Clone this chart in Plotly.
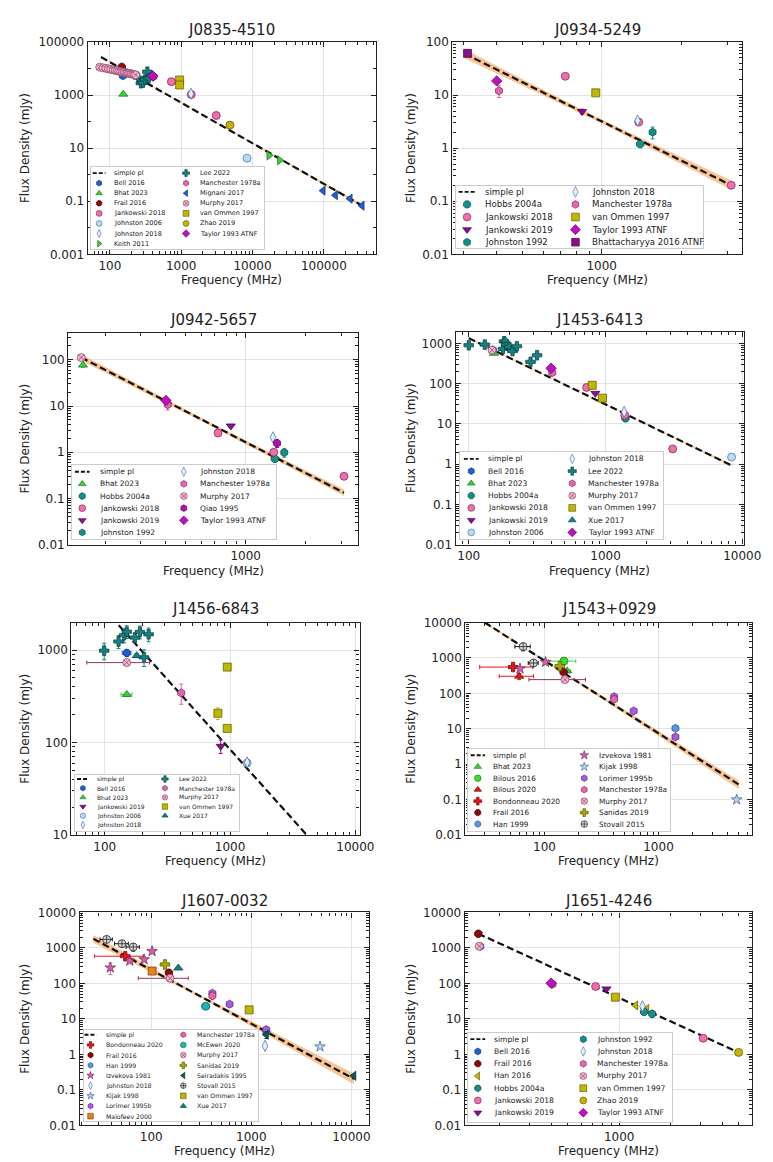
import math
import plotly.graph_objects as go

W, H = 773, 1162
FONT = "DejaVu Sans"
INK = "#222222"

# ---------------- values ----------------
# rows: (reference, frequency MHz, flux density mJy, flux error, frequency error)

J0835_rows = [
    ("Murphy 2017", 72, 11300, 0, 0), ("Murphy 2017", 80, 10600, 0, 0),
    ("Murphy 2017", 88, 10200, 0, 0), ("Murphy 2017", 95, 9600, 0, 0),
    ("Murphy 2017", 103, 9300, 0, 0), ("Murphy 2017", 111, 8900, 0, 0),
    ("Murphy 2017", 118, 8500, 0, 0), ("Murphy 2017", 126, 8300, 0, 0),
    ("Murphy 2017", 134, 7900, 0, 0), ("Murphy 2017", 142, 7700, 0, 0),
    ("Murphy 2017", 150, 7400, 0, 0), ("Murphy 2017", 158, 7300, 0, 0),
    ("Murphy 2017", 166, 7000, 0, 0), ("Murphy 2017", 174, 6800, 0, 0),
    ("Murphy 2017", 182, 6700, 0, 0), ("Murphy 2017", 190, 6500, 0, 0),
    ("Murphy 2017", 200, 6300, 0, 0), ("Murphy 2017", 210, 6100, 0, 0),
    ("Murphy 2017", 220, 5900, 0, 0), ("Murphy 2017", 230, 5800, 0, 0),
    ("Frail 2016", 147, 11500, 1200, 0),
    ("Bell 2016", 152, 5300, 600, 0),
    ("Bhat 2023", 154, 1080, 100, 0),
    ("Lee 2022", 250, 4500, 400, 0), ("Lee 2022", 272, 2800, 300, 0),
    ("Lee 2022", 292, 2950, 300, 0), ("Lee 2022", 312, 3900, 400, 0),
    ("Lee 2022", 335, 7600, 800, 0), ("Lee 2022", 350, 4300, 400, 0),
    ("Manchester 1978a", 408, 4900, 0, 0),
    ("Taylor 1993 ATNF", 400, 5200, 0, 0),
    ("Jankowski 2018", 728, 3200, 300, 0), ("Jankowski 2018", 1382, 1050, 100, 0),
    ("Jankowski 2018", 3100, 170, 20, 0),
    ("Johnston 2018", 1369, 1130, 50, 0),
    ("van Ommen 1997", 950, 3700, 0, 0), ("van Ommen 1997", 950, 2400, 0, 0),
    ("Zhao 2019", 4820, 74, 5, 0),
    ("Johnston 2006", 8356, 4.2, 0.3, 0),
    ("Keith 2011", 17000, 5.3, 0.5, 0), ("Keith 2011", 24000, 3.5, 0.3, 0),
    ("Mignani 2017", 97500, 0.25, 0.02, 0), ("Mignani 2017", 145000, 0.17, 0.02, 0),
    ("Mignani 2017", 233000, 0.125, 0.01, 0), ("Mignani 2017", 343000, 0.068, 0.006, 0),
]
J0835_order = ["Bell 2016", "Bhat 2023", "Frail 2016", "Jankowski 2018", "Johnston 2006",
               "Johnston 2018", "Keith 2011", "Lee 2022", "Manchester 1978a", "Mignani 2017",
               "Murphy 2017", "van Ommen 1997", "Zhao 2019", "Taylor 1993 ATNF"]
J0835_fit_freq = [75, 343000]
J0835_fit_flux = [27000, 0.069]
J0835_band_freq = [75, 2000, 343000]
J0835_band_lo = [25500, 174, 0.062]
J0835_band_hi = [28500, 184, 0.077]
J0835_xticks = ["100", "1000", "10000", "100000"]
J0835_yticks = ["0.001", "0.1", "10", "1000", "100000"]

J0934_rows = [
    ("Bhattacharyya 2016 ATNF", 310, 61, 5, 0),
    ("Taylor 1993 ATNF", 400, 18.5, 0, 0),
    ("Manchester 1978a", 408, 12, 3, 0),
    ("Jankowski 2018", 728, 22.6, 3, 0), ("Jankowski 2018", 1382, 3.1, 0.3, 0),
    ("Jankowski 2018", 3100, 0.2, 0.02, 0),
    ("Jankowski 2019", 843, 4.9, 0.5, 0),
    ("van Ommen 1997", 950, 11, 0, 0),
    ("Johnston 2018", 1369, 3.3, 0.3, 0),
    ("Hobbs 2004a", 1400, 1.19, 0.1, 0),
    ("Johnston 1992", 1560, 2.0, 0.5, 0),
]
J0934_order = ["Hobbs 2004a", "Jankowski 2018", "Jankowski 2019", "Johnston 1992",
               "Johnston 2018", "Manchester 1978a", "van Ommen 1997", "Taylor 1993 ATNF",
               "Bhattacharyya 2016 ATNF"]
J0934_fit_freq = [303, 3100]
J0934_fit_flux = [59.7, 0.2]
J0934_band_freq = [303, 1000, 3100]
J0934_band_lo = [49, 2.95, 0.165]
J0934_band_hi = [72, 3.45, 0.245]
J0934_xticks = ["1000"]
J0934_yticks = ["0.01", "0.1", "1", "10", "100"]

J0942_rows = [
    ("Murphy 2017", 151, 112, 0, 0),
    ("Bhat 2023", 154, 77, 8, 0),
    ("Taylor 1993 ATNF", 400, 13.2, 0, 0),
    ("Manchester 1978a", 408, 10.7, 2.5, 0),
    ("Jankowski 2018", 728, 2.6, 0.2, 0), ("Jankowski 2018", 1382, 1.0, 0.1, 0),
    ("Jankowski 2018", 3100, 0.30, 0.03, 0),
    ("Jankowski 2019", 843, 3.7, 0.3, 0),
    ("Johnston 2018", 1369, 2.1, 0.2, 0),
    ("Hobbs 2004a", 1400, 0.72, 0.08, 0),
    ("Qiao 1995", 1435, 1.56, 0.3, 0),
    ("Johnston 1992", 1560, 0.98, 0.2, 0),
]
J0942_order = ["Bhat 2023", "Hobbs 2004a", "Jankowski 2018", "Jankowski 2019", "Johnston 1992",
               "Johnston 2018", "Manchester 1978a", "Murphy 2017", "Qiao 1995", "Taylor 1993 ATNF"]
J0942_fit_freq = [151, 3100]
J0942_fit_flux = [112, 0.132]
J0942_band_freq = [151, 680, 3100]
J0942_band_lo = [95, 3.6, 0.112]
J0942_band_hi = [132, 4.2, 0.156]
J0942_xticks = ["1000"]
J0942_yticks = ["0.01", "0.1", "1", "10", "100"]

J1453_rows = [
    ("Bell 2016", 150, 700, 0, 0),
    ("Bhat 2023", 153, 573, 0, 0),
    ("Lee 2022", 100, 910, 100, 0), ("Lee 2022", 131, 945, 100, 0),
    ("Lee 2022", 178, 740, 80, 0), ("Lee 2022", 181, 1140, 120, 0),
    ("Lee 2022", 188, 945, 100, 0), ("Lee 2022", 198, 830, 90, 0),
    ("Lee 2022", 209, 650, 70, 0), ("Lee 2022", 225, 860, 90, 0),
    ("Lee 2022", 283, 352, 40, 0), ("Lee 2022", 316, 513, 60, 0),
    ("Xue 2017", 185, 1200, 0, 0),
    ("Murphy 2017", 148, 690, 0, 0),
    ("Taylor 1993 ATNF", 400, 243, 0, 0),
    ("Manchester 1978a", 408, 188, 0, 0),
    ("Jankowski 2018", 728, 81, 0, 0), ("Jankowski 2018", 1382, 16.5, 0, 0),
    ("Jankowski 2018", 3100, 2.4, 0, 0),
    ("Jankowski 2019", 843, 58, 0, 0),
    ("van Ommen 1997", 800, 92, 0, 0), ("van Ommen 1997", 950, 44, 0, 0),
    ("Johnston 2018", 1369, 20, 2, 0),
    ("Hobbs 2004a", 1400, 13.8, 0, 0),
    ("Johnston 2006", 8356, 1.5, 0, 0),
]
J1453_order = ["Bell 2016", "Bhat 2023", "Hobbs 2004a", "Jankowski 2018", "Jankowski 2019",
               "Johnston 2006", "Johnston 2018", "Lee 2022", "Manchester 1978a", "Murphy 2017",
               "van Ommen 1997", "Xue 2017", "Taylor 1993 ATNF"]
J1453_fit_freq = [100, 8356]
J1453_fit_flux = [1370, 0.93]
J1453_band_freq = [100, 900, 8356]
J1453_band_lo = [1300, 35.8, 0.87]
J1453_band_hi = [1440, 37.4, 0.99]
J1453_xticks = ["100", "1000", "10000"]
J1453_yticks = ["0.01", "0.1", "1", "10", "100", "1000"]

J1456_rows = [
    ("Lee 2022", 99, 985, 200, 0), ("Lee 2022", 129, 1237, 200, 0),
    ("Lee 2022", 143, 1446, 250, 0), ("Lee 2022", 150, 1580, 250, 0),
    ("Lee 2022", 174, 1365, 150, 0), ("Lee 2022", 191, 1570, 250, 0),
    ("Lee 2022", 206, 835, 170, 0), ("Lee 2022", 224, 1480, 250, 0),
    ("Bell 2016", 150, 930, 80, 12),
    ("Murphy 2017", 150, 732, 0, 78),
    ("Bhat 2023", 150, 331, 15, 15),
    ("Xue 2017", 180, 870, 40, 0),
    ("Manchester 1978a", 408, 344, 85, 0),
    ("van Ommen 1997", 950, 654, 0, 0), ("van Ommen 1997", 800, 207, 30, 0),
    ("van Ommen 1997", 950, 142, 0, 0),
    ("Jankowski 2019", 843, 91, 15, 0),
    ("Johnston 2006", 1369, 60, 0, 0),
    ("Johnston 2018", 1369, 61, 4, 0),
]
J1456_order = ["Bell 2016", "Bhat 2023", "Jankowski 2019", "Johnston 2006", "Johnston 2018",
               "Lee 2022", "Manchester 1978a", "Murphy 2017", "van Ommen 1997", "Xue 2017"]
J1456_fit_freq = [100, 5000]
J1456_fit_flux = [2740, 7.4]
J1456_band_freq = []
J1456_band_lo = []
J1456_band_hi = []
J1456_xticks = ["100", "1000", "10000"]
J1456_yticks = ["10", "100", "1000"]

J1543_rows = [
    ("Stovall 2015", 65, 2100, 500, 10), ("Stovall 2015", 80, 720, 150, 8),
    ("Izvekova 1981", 61, 500, 0, 0), ("Izvekova 1981", 102, 765, 0, 0),
    ("Bondonneau 2020", 53, 555, 100, 26),
    ("Bilous 2020", 60, 305, 60, 20),
    ("Bilous 2016", 148, 817, 0, 40),
    ("Sanidas 2019", 136, 591, 0, 0),
    ("Frail 2016", 147, 398, 40, 0),
    ("Bhat 2023", 158, 430, 40, 12),
    ("Murphy 2017", 151, 245, 0, 78),
    ("Manchester 1978a", 408, 68, 0, 0),
    ("Lorimer 1995b", 408, 81, 0, 0), ("Lorimer 1995b", 606, 32, 0, 0),
    ("Lorimer 1995b", 1408, 5.9, 0, 0),
    ("Han 1999", 1408, 10.3, 0, 0),
    ("Kijak 1998", 4850, 0.1, 0, 0),
]
J1543_order = ["Bhat 2023", "Bilous 2016", "Bilous 2020", "Bondonneau 2020", "Frail 2016",
               "Han 1999", "Izvekova 1981", "Kijak 1998", "Lorimer 1995b", "Manchester 1978a",
               "Murphy 2017", "Sanidas 2019", "Stovall 2015"]
J1543_fit_freq = [25, 5080]
J1543_fit_flux = [14500, 0.265]
J1543_band_freq = [25, 150, 5080]
J1543_band_lo = [13500, 350, 0.2]
J1543_band_hi = [15600, 383, 0.34]
J1543_xticks = ["100", "1000"]
J1543_yticks = ["0.01", "0.1", "1", "10", "100", "1000", "10000"]

J1607_rows = [
    ("Stovall 2015", 35.8, 1730, 250, 5), ("Stovall 2015", 51, 1310, 250, 8),
    ("Stovall 2015", 66, 1060, 250, 10),
    ("Bondonneau 2020", 55, 582, 120, 28),
    ("Izvekova 1981", 39, 276, 100, 0), ("Izvekova 1981", 61, 431, 0, 0),
    ("Izvekova 1981", 85, 470, 0, 0), ("Izvekova 1981", 102, 802, 0, 0),
    ("Malofeev 2000", 102, 222, 0, 0),
    ("Frail 2016", 150, 200, 0, 0),
    ("Murphy 2017", 154, 139, 0, 80),
    ("Sanidas 2019", 137, 341, 0, 0),
    ("Xue 2017", 186, 270, 0, 0),
    ("Lorimer 1995b", 408, 53, 0, 0), ("Lorimer 1995b", 606, 26, 0, 0),
    ("Lorimer 1995b", 1408, 5.0, 0, 0),
    ("Manchester 1978a", 408, 45, 10, 0),
    ("McEwen 2020", 350, 22.6, 0, 30),
    ("van Ommen 1997", 950, 18, 0, 0),
    ("Johnston 2018", 1369, 1.74, 0, 0),
    ("Han 1999", 1408, 4.4, 0, 0),
    ("Seiradakis 1995", 1410, 3.6, 0.8, 0), ("Seiradakis 1995", 10550, 0.25, 0, 0),
    ("Kijak 1998", 4850, 1.66, 0, 0),
]
J1607_order = ["Bondonneau 2020", "Frail 2016", "Han 1999", "Izvekova 1981", "Johnston 2018",
               "Kijak 1998", "Lorimer 1995b", "Malofeev 2000", "Manchester 1978a", "McEwen 2020",
               "Murphy 2017", "Sanidas 2019", "Seiradakis 1995", "Stovall 2015",
               "van Ommen 1997", "Xue 2017"]
J1607_fit_freq = [26.4, 10550]
J1607_fit_flux = [1800, 0.205]
J1607_band_freq = [26.4, 300, 10550]
J1607_band_lo = [1400, 42, 0.145]
J1607_band_hi = [2320, 49, 0.29]
J1607_xticks = ["100", "1000", "10000"]
J1607_yticks = ["0.01", "0.1", "1", "10", "100", "1000", "10000"]

J1651_rows = [
    ("Bell 2016", 154, 1100, 0, 0),
    ("Frail 2016", 150, 2500, 300, 0),
    ("Murphy 2017", 152, 1110, 0, 0),
    ("Manchester 1978a", 408, 95, 0, 0),
    ("Taylor 1993 ATNF", 400, 101, 0, 0),
    ("Jankowski 2018", 728, 82, 0, 0), ("Jankowski 2018", 3100, 2.86, 0, 0),
    ("Jankowski 2019", 843, 70, 0, 0),
    ("van Ommen 1997", 950, 41, 0, 0),
    ("Han 2016", 1250, 24, 0, 0), ("Han 2016", 1450, 19, 0, 0),
    ("Johnston 2018", 1369, 22.7, 0, 0),
    ("Hobbs 2004a", 1400, 15.8, 0, 0),
    ("Johnston 1992", 1560, 13.9, 3, 0),
    ("Zhao 2019", 5000, 1.14, 0, 0),
]
J1651_order = ["Bell 2016", "Frail 2016", "Han 2016", "Hobbs 2004a", "Jankowski 2018",
               "Jankowski 2019", "Johnston 1992", "Johnston 2018", "Manchester 1978a",
               "Murphy 2017", "van Ommen 1997", "Zhao 2019", "Taylor 1993 ATNF"]
J1651_fit_freq = [150, 5000]
J1651_fit_flux = [2500, 1.14]
J1651_band_freq = []
J1651_band_lo = []
J1651_band_hi = []
J1651_xticks = ["1000"]
J1651_yticks = ["0.01", "0.1", "1", "10", "100", "1000", "10000"]

FIT_LABEL = "simple pl"
X_TITLE = "Frequency (MHz)"
Y_TITLE = "Flux Density (mJy)"

# ---------------- styles ----------------
# reference -> (symbol, fill, edge)
STYLE = {
    "Bell 2016": ("hexagon", "#1f5fd0", "#0d2f70"),
    "Bhat 2023": ("triangle-up", "#3ccf3c", "#1a6a1a"),
    "Frail 2016": ("octagon", "#8b0a0a", "#3a0000"),
    "Jankowski 2018": ("circle", "#f06eaa", "#7a2050"),
    "Johnston 2006": ("circle", "#b8daf2", "#4070a0"),
    "Johnston 2018": ("diamond-tall", "#e6eefa", "#3f6aa8"),
    "Keith 2011": ("triangle-right", "#3ccf3c", "#1a6a1a"),
    "Lee 2022": ("cross", "#178080", "#0a3a3a"),
    "Manchester 1978a": ("hexagon", "#e466b0", "#7a2050"),
    "Mignani 2017": ("triangle-left", "#1f5fd0", "#0d2f70"),
    "Murphy 2017": ("circle-x", "#f4b8d4", "#8a3a60"),
    "van Ommen 1997": ("square", "#c0b800", "#5a5500"),
    "Zhao 2019": ("circle", "#c8b400", "#5a5000"),
    "Taylor 1993 ATNF": ("diamond", "#c010c0", "#500050"),
    "Hobbs 2004a": ("octagon", "#12908a", "#064040"),
    "Jankowski 2019": ("triangle-down", "#8b108b", "#400040"),
    "Johnston 1992": ("hexagon", "#12908a", "#064040"),
    "Bhattacharyya 2016 ATNF": ("square", "#8b108b", "#400040"),
    "Qiao 1995": ("hexagon", "#b010b0", "#500050"),
    "Xue 2017": ("triangle-up", "#12807a", "#064040"),
    "Bilous 2016": ("circle", "#33e033", "#157015"),
    "Bilous 2020": ("triangle-up", "#e01818", "#700000"),
    "Bondonneau 2020": ("cross", "#e01818", "#700000"),
    "Han 1999": ("hexagon", "#5a96dc", "#204a80"),
    "Izvekova 1981": ("star", "#d462a8", "#6a2050"),
    "Kijak 1998": ("star", "#bcd0ea", "#3a5a8a"),
    "Lorimer 1995b": ("hexagon", "#a85ae6", "#502070"),
    "Sanidas 2019": ("cross", "#a8a800", "#505000"),
    "Stovall 2015": ("circle-cross", "#d8d8d8", "#111111"),
    "McEwen 2020": ("circle", "#22b4ae", "#0a5a56"),
    "Seiradakis 1995": ("triangle-left", "#0e5a52", "#042a26"),
    "Malofeev 2000": ("square", "#e8801e", "#703800"),
    "Han 2016": ("triangle-left", "#c0b800", "#5a5500"),
}
LIGHT_FILL = {"Johnston 2018", "Kijak 1998", "Stovall 2015", "Johnston 2006", "Murphy 2017"}

PANELS = [
    ("J0835-4510", J0835_rows, J0835_order, J0835_fit_freq, J0835_fit_flux,
     J0835_band_freq, J0835_band_lo, J0835_band_hi, J0835_xticks, J0835_yticks),
    ("J0934-5249", J0934_rows, J0934_order, J0934_fit_freq, J0934_fit_flux,
     J0934_band_freq, J0934_band_lo, J0934_band_hi, J0934_xticks, J0934_yticks),
    ("J0942-5657", J0942_rows, J0942_order, J0942_fit_freq, J0942_fit_flux,
     J0942_band_freq, J0942_band_lo, J0942_band_hi, J0942_xticks, J0942_yticks),
    ("J1453-6413", J1453_rows, J1453_order, J1453_fit_freq, J1453_fit_flux,
     J1453_band_freq, J1453_band_lo, J1453_band_hi, J1453_xticks, J1453_yticks),
    ("J1456-6843", J1456_rows, J1456_order, J1456_fit_freq, J1456_fit_flux,
     J1456_band_freq, J1456_band_lo, J1456_band_hi, J1456_xticks, J1456_yticks),
    ("J1543+0929", J1543_rows, J1543_order, J1543_fit_freq, J1543_fit_flux,
     J1543_band_freq, J1543_band_lo, J1543_band_hi, J1543_xticks, J1543_yticks),
    ("J1607-0032", J1607_rows, J1607_order, J1607_fit_freq, J1607_fit_flux,
     J1607_band_freq, J1607_band_lo, J1607_band_hi, J1607_xticks, J1607_yticks),
    ("J1651-4246", J1651_rows, J1651_order, J1651_fit_freq, J1651_fit_flux,
     J1651_band_freq, J1651_band_lo, J1651_band_hi, J1651_xticks, J1651_yticks),
]

# ---------------- layout (pixels) ----------------
PLOT_BOX = [  # x0, x1, y0(top), y1(bottom)
    (81.7, 376.7, 27.3, 242.3), (455.0, 751.7, 27.3, 242.3),
    (61.7, 358.3, 321.7, 536.0), (458.3, 753.3, 320.7, 536.0),
    (65.0, 360.0, 615.0, 830.0), (468.3, 761.7, 615.0, 830.0),
    (73.3, 370.0, 908.3, 1124.0), (467.7, 761.7, 908.3, 1124.0),
]
LOG_RANGE = [
    ((1.69, 5.73), (-3, 5)), ((2.434, 3.533), (-2, 2)),
    ((2.114, 3.561), (-2, 2.585)), ((1.904, 4.011), (-2, 3.293)),
    ((1.735, 4.034), (1, 3.297)), ((1.306, 3.82), (-2, 4)),
    ((1.284, 4.179), (-2, 4)), ((2.097, 3.777), (-2, 4)),
]
Y_MINOR_SUBS = [[1], list(range(2, 10)), list(range(2, 10)), list(range(2, 10)),
                list(range(2, 10)), list(range(2, 10)), list(range(2, 10)), list(range(2, 10))]
LEGEND_LAYOUT = [  # box (x0,x1,y0,y1), first row y, row step, marker x per col, text x per col, font
    dict(box=(85, 262, 154, 237), row0=160, dy=10.2, mx=(93.3, 182.3), tx=(106, 194.3), fs=6.5),
    dict(box=(459, 712, 173, 236), row0=179, dy=12.75, mx=(470, 581), tx=(486, 595.7), fs=8.6),
    dict(box=(65.7, 274, 455.7, 530.7), row0=462.3, dy=12.3, mx=(76, 180), tx=(91.7, 195), fs=7.5),
    dict(box=(462.3, 671, 442.7, 530.7), row0=449.3, dy=12.4, mx=(474.3, 577.7), tx=(489, 591.7), fs=7.6),
    dict(box=(68.3, 236.7, 769.3, 825.7), row0=773.3, dy=9.3, mx=(76.7, 160.7), tx=(89.3, 172.7), fs=6.0),
    dict(box=(471, 677.7, 742.7, 826), row0=749.3, dy=11.6, mx=(481, 590), tx=(495, 602.7), fs=7.3),
    dict(box=(77.3, 256, 1027.3, 1119.3), row0=1032.2, dy=10.3, mx=(84.5, 179.5), tx=(98, 191.7), fs=6.2),
    dict(box=(471, 680, 1030.7, 1120), row0=1036.7, dy=12.4, mx=(481, 589), tx=(496, 601), fs=7.6),
]
TITLE_Y = [15.0, 308.3, 601.7, 896.7]
XLABEL_Y = [268.3, 562.7, 856.7, 1150.0]
YLABEL_X = [17.3, 412.5]


def px_x(v):
    return v / W


def px_y(v):
    return 1 - v / H


def suffix(n):
    return "" if n == 1 else str(n)


def minor_vals(lo, hi, subs, majors):
    out = []
    for d in range(math.floor(lo) - 1, math.ceil(hi) + 1):
        for m in subs:
            v = m * 10.0 ** d
            lv = math.log10(v)
            if lo <= lv <= hi and all(abs(lv - math.log10(t)) > 1e-6 for t in majors):
                out.append(v)
    return out


fig = go.Figure()
annotations = []
layout = {}

for k, (name, rows, order, ffreq, fflux, bfreq, blo, bhi, xt, yt) in enumerate(PANELS, start=1):
    s = suffix(k)
    ls = suffix(k + 8)
    xa, ya = "x" + s, "y" + s
    x0, x1, y0, y1 = PLOT_BOX[k - 1]
    (xl, xh), (yl, yh) = LOG_RANGE[k - 1]
    row = (k - 1) // 2
    col = (k - 1) % 2

    # uncertainty band and fit line
    if bfreq:
        fig.add_trace(go.Scatter(
            x=bfreq + bfreq[::-1], y=bhi + blo[::-1], fill="toself",
            fillcolor="rgba(245,150,60,0.55)", line=dict(width=0), mode="lines",
            xaxis=xa, yaxis=ya, showlegend=False, hoverinfo="skip"))
    fig.add_trace(go.Scatter(
        x=ffreq, y=fflux, mode="lines", line=dict(color="#111111", width=2.2, dash="7px,3.5px"),
        xaxis=xa, yaxis=ya, showlegend=False, name=FIT_LABEL))

    # data points
    for ref in order:
        pts = [r for r in rows if r[0] == ref]
        sym, fill, edge = STYLE[ref]
        ecol = edge if ref in LIGHT_FILL else fill
        yerr = [r[3] for r in pts]
        xerr = [r[4] for r in pts]
        fig.add_trace(go.Scatter(
            x=[r[1] for r in pts], y=[r[2] for r in pts], mode="markers", name=ref,
            marker=dict(symbol=sym, size=8, color=fill, line=dict(color=edge, width=0.7)),
            error_y=dict(type="data", array=yerr, visible=any(v > 0 for v in yerr),
                         color=ecol, thickness=1, width=2),
            error_x=dict(type="data", array=xerr, visible=any(v > 0 for v in xerr),
                         color=ecol, thickness=1, width=2),
            xaxis=xa, yaxis=ya, showlegend=False))

    xmaj = [float(t) for t in xt]
    ymaj = [float(t) for t in yt]
    common = dict(type="log", showline=True, linecolor=INK, linewidth=1.3, mirror="allticks",
                  ticks="inside", ticklen=5, tickwidth=1, tickcolor=INK,
                  showgrid=True, gridcolor="#e4e4e4", gridwidth=0.8, zeroline=False,
                  tickfont=dict(family=FONT, size=12, color=INK), fixedrange=True)
    layout["xaxis" + s] = dict(
        common, domain=[px_x(x0), px_x(x1)], range=[xl, xh], anchor=ya,
        tickmode="array", tickvals=xmaj, ticktext=xt,
        minor=dict(tickmode="array", tickvals=minor_vals(xl, xh, range(2, 10), xmaj),
                   ticks="inside", ticklen=3, tickwidth=0.8, tickcolor=INK, showgrid=False))
    layout["yaxis" + s] = dict(
        common, domain=[px_y(y1), px_y(y0)], range=[yl, yh], anchor=xa,
        tickmode="array", tickvals=ymaj, ticktext=yt,
        minor=dict(tickmode="array", tickvals=minor_vals(yl, yh, Y_MINOR_SUBS[k - 1], ymaj),
                   ticks="inside", ticklen=3, tickwidth=0.8, tickcolor=INK, showgrid=False))

    # titles
    cx = (x0 + x1) / 2
    annotations.append(dict(text=name, x=px_x(cx), y=px_y(TITLE_Y[row]), xref="paper", yref="paper",
                            showarrow=False, xanchor="center", yanchor="middle",
                            font=dict(family=FONT, size=15, color=INK)))
    annotations.append(dict(text=X_TITLE, x=px_x(cx), y=px_y(XLABEL_Y[row]), xref="paper",
                            yref="paper", showarrow=False, xanchor="center", yanchor="middle",
                            font=dict(family=FONT, size=12, color=INK)))
    annotations.append(dict(text=Y_TITLE, x=px_x(YLABEL_X[col]), y=px_y((y0 + y1) / 2),
                            xref="paper", yref="paper", showarrow=False, textangle=-90,
                            xanchor="center", yanchor="middle",
                            font=dict(family=FONT, size=12, color=INK)))

    # legend (drawn on an overlay axis in pixel units)
    L = LEGEND_LAYOUT[k - 1]
    bx0, bx1, by0, by1 = L["box"]
    lxa, lya = "x" + ls, "y" + ls
    layout["xaxis" + ls] = dict(domain=[px_x(bx0), px_x(bx1)], range=[bx0, bx1], anchor=lya,
                                showline=True, mirror=True, linecolor="#cccccc", linewidth=1,
                                showgrid=False, zeroline=False, showticklabels=False, ticks="",
                                fixedrange=True)
    layout["yaxis" + ls] = dict(domain=[px_y(by1), px_y(by0)], range=[by1, by0], anchor=lxa,
                                showline=True, mirror=True, linecolor="#cccccc", linewidth=1,
                                showgrid=False, zeroline=False, showticklabels=False, ticks="",
                                fixedrange=True)
    entries = [FIT_LABEL] + order
    nrows = math.ceil(len(entries) / 2)
    fs = L["fs"]
    for i, e in enumerate(entries):
        c, r = divmod(i, nrows)
        yy = L["row0"] + r * L["dy"]
        mx = L["mx"][c]
        if e == FIT_LABEL:
            fig.add_trace(go.Scatter(x=[mx - fs, mx + fs], y=[yy, yy], mode="lines",
                                     line=dict(color="#111111", width=1.8, dash="4px,2px"),
                                     xaxis=lxa, yaxis=lya, showlegend=False, hoverinfo="skip"))
        else:
            sym, fill, edge = STYLE[e]
            fig.add_trace(go.Scatter(x=[mx], y=[yy], mode="markers",
                                     marker=dict(symbol=sym, size=fs * 0.9, color=fill,
                                                 line=dict(color=edge, width=0.6)),
                                     xaxis=lxa, yaxis=lya, showlegend=False, hoverinfo="skip"))
        annotations.append(dict(text=e, x=L["tx"][c], y=yy, xref=lxa, yref=lya, showarrow=False,
                                xanchor="left", yanchor="middle",
                                font=dict(family=FONT, size=fs, color=INK)))

fig.update_layout(
    width=W, height=H, margin=dict(l=0, r=0, t=0, b=0),
    paper_bgcolor="white", plot_bgcolor="white",
    font=dict(family=FONT, color=INK), showlegend=False,
    annotations=annotations, **layout)

fig.write_html("out.html")
